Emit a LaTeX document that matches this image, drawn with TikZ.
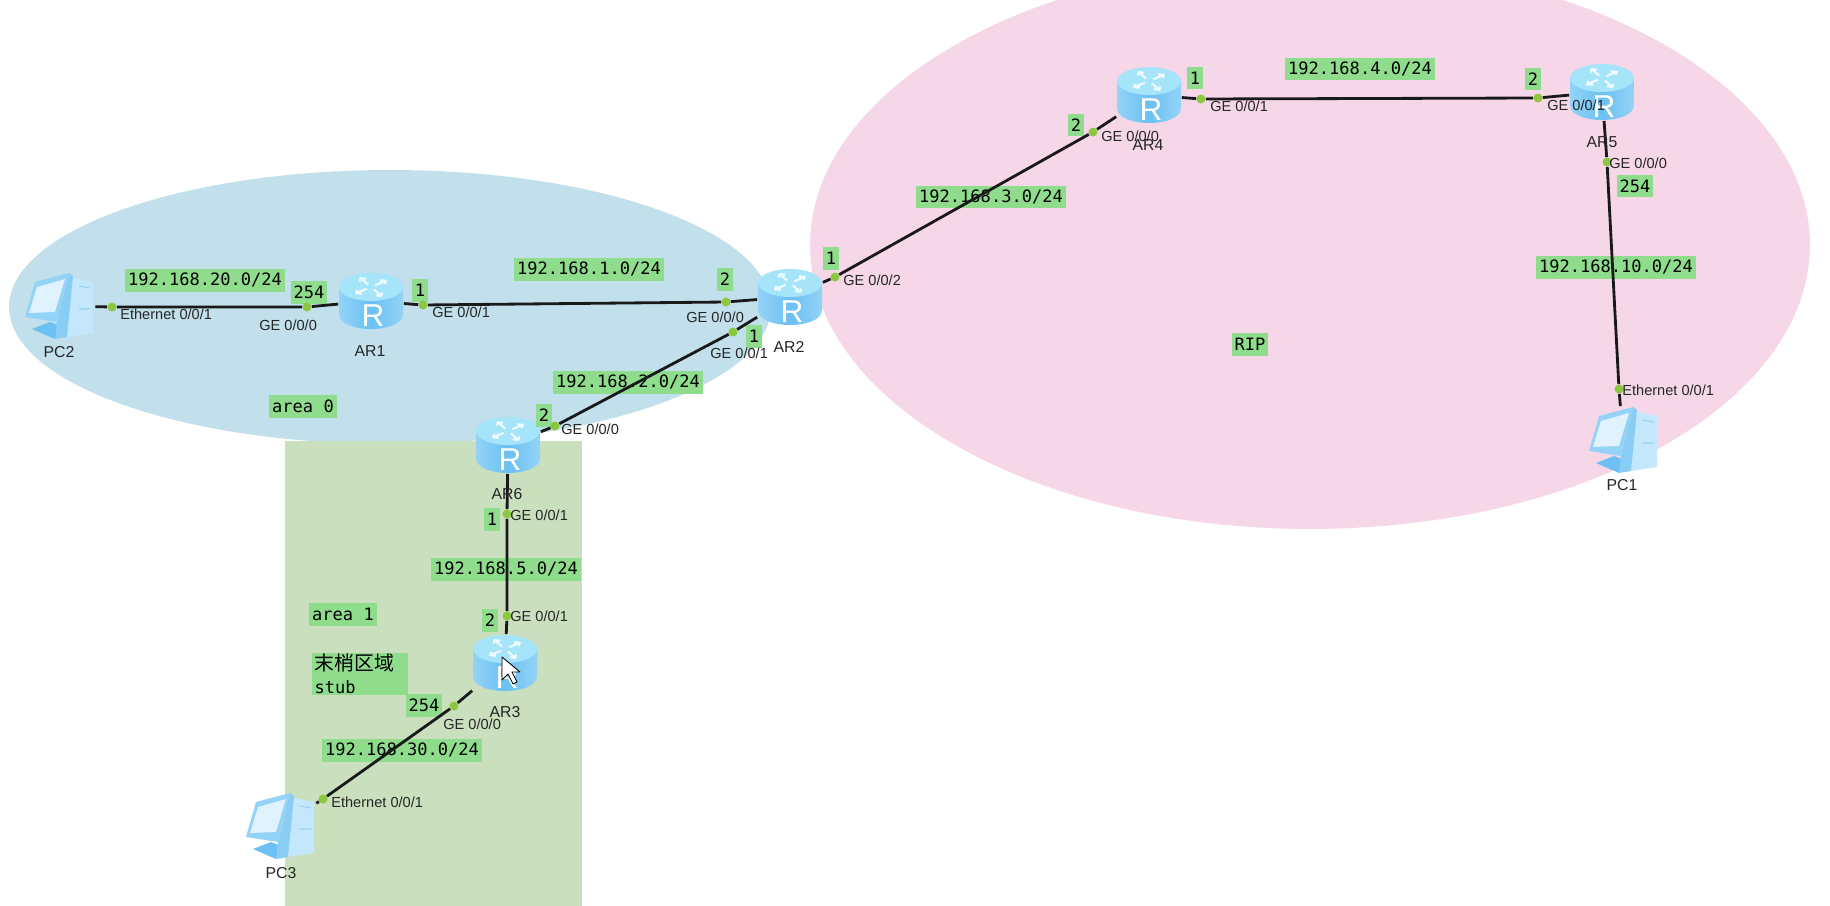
\documentclass[tikz,border=0pt]{standalone}
\usepackage{fontspec}
\setmainfont{Liberation Sans}
\setmonofont{DejaVu Sans Mono}
\newfontfamily\cjkfont{Noto Sans CJK SC}
\usepackage{tikz}
\definecolor{areablue}{HTML}{C1E0EC}
\definecolor{areapink}{HTML}{F6D7E7}
\definecolor{areagreen}{HTML}{C9DFBE}
\definecolor{taggreen}{HTML}{8FDD8C}
\definecolor{portgreen}{HTML}{8DC63F}
\definecolor{iconblue}{HTML}{6CC0F3}
\definecolor{iconside}{HTML}{93D3F7}
\definecolor{icontop}{HTML}{A6E4FA}

\begin{document}
\begin{tikzpicture}[
        x=0.02cm, y=-0.02cm,
        router/.style={rectangle, minimum width=1.3cm, minimum height=1.14cm, inner sep=0pt},
        pc/.style={rectangle, minimum width=1.44cm, minimum height=1.34cm, inner sep=0pt},
        port/.style={circle, fill=portgreen, minimum size=0.18cm, inner sep=0pt},
        link/.style={line width=1.6pt, black!90},
        tag/.style={fill=taggreen, font=\ttfamily\fontsize{9.7}{12}\selectfont, minimum height=0.46cm, inner xsep=0.06cm, inner ysep=0pt},
        numtag/.style={tag, inner xsep=0.05cm},
        ifname/.style={font=\fontsize{8.3}{10}\selectfont, anchor=west, inner sep=0pt, text=black!85},
        devname/.style={font=\fontsize{9}{11}\selectfont, inner sep=0pt, text=black!85},
        pics/routericon/.style={code={
            \shade[left color=iconside, right color=iconside, middle color=iconblue]
                (-32,-14) -- (-32,13) .. controls (-32,33) and (32,33) .. (32,13) -- (32,-14) -- cycle;
            \fill[icontop] (0,-14) ellipse [x radius=0.64cm, y radius=0.28cm];
            \foreach \ang in {35,125,215,305}
                \draw[white!80!icontop, line width=1.2pt, shift={(0,-14)}, yscale=0.6, rotate=\ang] (5,0) -- (18,0) (14,-4) -- (18,0) -- (14,4);
            \node[text=white, font=\fontsize{18}{20}\selectfont, inner sep=0pt] (-R) at (2,15) {R};
        }},
        pics/pcicon/.style={code={
            \fill[iconside!55!white] (11,-29) -- (34,-24) -- (34,27) -- (8,31) -- cycle;
            \fill[iconblue] (-27,23) -- (-9,16) -- (6,22) -- (6,28) -- (-4,33) -- cycle;
            \fill[iconblue!80!white] (10,-33) -- (14,-30) -- (8,31) -- (-4,33) -- (-2,16) -- cycle;
            \fill[iconside] (-34,11) -- (-24,-24) -- (10,-33) -- (-2,16) -- cycle;
            \fill[iconside!30!white] (-30,7) -- (-22,-19) -- (6,-27) -- (-4,6) -- cycle;
            \draw[iconside, line width=0.6pt] (20,-20) -- (31,-18) (20,3) -- (31,3);
        }}
    ]
        \useasboundingbox (0,0) rectangle (1830,906);
        \fill[white] (0,0) rectangle (1830,906);

        % Areas
        \begin{scope}
            \clip (0,0) rectangle (1830,906);
            \fill[areablue] (390,307) ellipse [x radius=7.62cm, y radius=2.74cm];
            \fill[areapink] (1310,245) ellipse [x radius=10cm, y radius=5.68cm];
            \fill[areagreen] (285,441) rectangle (582,906);
        \end{scope}

        % Routers
        \node[router] (AR1) at (371,301) {};
        \node[router] (AR2) at (790,297) {};
        \node[router] (AR3) at (505,663) {};
        \node[router] (AR4) at (1149,95) {};
        \node[router] (AR5) at (1602,92) {};
        \node[router] (AR6) at (508,445) {};
        \foreach \r in {AR1,AR2,AR3,AR4,AR5,AR6}
            \pic (icon\r) at (\r) {routericon};

        % PCs
        \node[pc] (PC1) at (1623,440) {};
        \node[pc] (PC2) at (59,306) {};
        \node[pc] (PC3) at (280,826) {};
        \foreach \p in {PC1,PC2,PC3}
            \pic (icon\p) at (\p) {pcicon};

        % Mouse pointer
        \draw[fill=white, line width=0.5pt, line join=round] (502,657) -- (502,680) -- (508,674) -- (513,684) -- (517,682) -- (512,672) -- (520,672) -- cycle;

        % Network tags
        \node[tag] (net20) at (205,280) {192.168.20.0/24};
        \node[tag] (net1) at (589,269) {192.168.1.0/24};
        \node[tag] (net2) at (628,382) {192.168.2.0/24};
        \node[tag] (net3) at (991,197) {192.168.3.0/24};
        \node[tag] (net4) at (1360,69) {192.168.4.0/24};
        \node[tag] (net10) at (1616,267) {192.168.10.0/24};
        \node[tag] (net5) at (506,569) {192.168.5.0/24};
        \node[tag] (net30) at (402,750) {192.168.30.0/24};
        \node[tag] (rip) at (1250,344) {RIP};
        \node[tag] (area0) at (303,406) {area 0};
        \node[tag] (area1) at (343,614) {area 1};
        \node[tag, align=left, text width=1.82cm, inner ysep=0.03cm] (stub) at (360,674) {{\cjkfont\fontsize{11.3}{13}\selectfont 末梢区域}\\[1pt]stub};

        % Address tags
        \node[numtag] (ipAR1l) at (309,292) {254};
        \node[numtag] (ipAR1r) at (420,290) {1};
        \node[numtag] (ipAR2l) at (725,279) {2};
        \node[numtag] (ipAR2b) at (754,336) {1};
        \node[numtag] (ipAR2r) at (831,258) {1};
        \node[numtag] (ipAR4l) at (1076,125) {2};
        \node[numtag] (ipAR4r) at (1195,78) {1};
        \node[numtag] (ipAR5l) at (1533,79) {2};
        \node[numtag] (ipAR5b) at (1635,186) {254};
        \node[numtag] (ipAR6t) at (544,415) {2};
        \node[numtag] (ipAR6b) at (492,519) {1};
        \node[numtag] (ipAR3t) at (490,620) {2};
        \node[numtag] (ipAR3b) at (424,705) {254};

        % Ports
        \node[port] (pPC2) at (112,307) {};
        \node[port] (pAR1l) at (307,307) {};
        \node[port] (pAR1r) at (423,305) {};
        \node[port] (pAR2l) at (726,302) {};
        \node[port] (pAR2b) at (733,332) {};
        \node[port] (pAR2r) at (835,277) {};
        \node[port] (pAR4l) at (1093,132) {};
        \node[port] (pAR4r) at (1201,99) {};
        \node[port] (pAR5l) at (1538,98) {};
        \node[port] (pAR5b) at (1607,162) {};
        \node[port] (pPC1) at (1619,389) {};
        \node[port] (pAR6t) at (555,426) {};
        \node[port] (pAR6b) at (507,514) {};
        \node[port] (pAR3t) at (507,616) {};
        \node[port] (pAR3b) at (454,706) {};
        \node[port] (pPC3) at (323,799) {};

        % Links
        \draw[link] (PC2) -- (pPC2) -- (pAR1l) -- (AR1);
        \draw[link] (AR1) -- (pAR1r) -- (pAR2l) -- (AR2);
        \draw[link] (AR2) -- (pAR2b) -- (pAR6t) -- (AR6);
        \draw[link] (AR2) -- (pAR2r) -- (pAR4l) -- (AR4);
        \draw[link] (AR4) -- (pAR4r) -- (pAR5l) -- (AR5);
        \draw[link] (AR5) -- (pAR5b) -- (pPC1) -- (PC1);
        \draw[link] (AR6) -- (pAR6b) -- (pAR3t) -- (AR3);
        \draw[link] (AR3) -- (pAR3b) -- (pPC3) -- (PC3);

        % Interface names
        \node[ifname] (ifPC2) at (120,314) {Ethernet 0/0/1};
        \node[ifname] (ifAR1l) at (259,325) {GE 0/0/0};
        \node[ifname] (ifAR1r) at (432,312) {GE 0/0/1};
        \node[ifname] (ifAR2l) at (686,317) {GE 0/0/0};
        \node[ifname] (ifAR2b) at (710,353) {GE 0/0/1};
        \node[ifname] (ifAR2r) at (843,280) {GE 0/0/2};
        \node[ifname] (ifAR4l) at (1101,136) {GE 0/0/0};
        \node[ifname] (ifAR4r) at (1210,106) {GE 0/0/1};
        \node[ifname] (ifAR5l) at (1547,105) {GE 0/0/1};
        \node[ifname] (ifAR5b) at (1609,163) {GE 0/0/0};
        \node[ifname] (ifPC1) at (1622,390) {Ethernet 0/0/1};
        \node[ifname] (ifAR6t) at (561,429) {GE 0/0/0};
        \node[ifname] (ifAR6b) at (510,515) {GE 0/0/1};
        \node[ifname] (ifAR3t) at (510,616) {GE 0/0/1};
        \node[ifname] (ifAR3b) at (443,724) {GE 0/0/0};
        \node[ifname] (ifPC3) at (331,802) {Ethernet 0/0/1};

        % Device names
        \node[devname] (nameAR1) at (370,351) {AR1};
        \node[devname] (nameAR2) at (789,347) {AR2};
        \node[devname] (nameAR3) at (505,712) {AR3};
        \node[devname] (nameAR4) at (1148,145) {AR4};
        \node[devname] (nameAR5) at (1602,142) {AR5};
        \node[devname] (nameAR6) at (507,494) {AR6};
        \node[devname] (namePC1) at (1622,485) {PC1};
        \node[devname] (namePC2) at (59,352) {PC2};
        \node[devname] (namePC3) at (281,873) {PC3};
    \end{tikzpicture}
\end{document}
